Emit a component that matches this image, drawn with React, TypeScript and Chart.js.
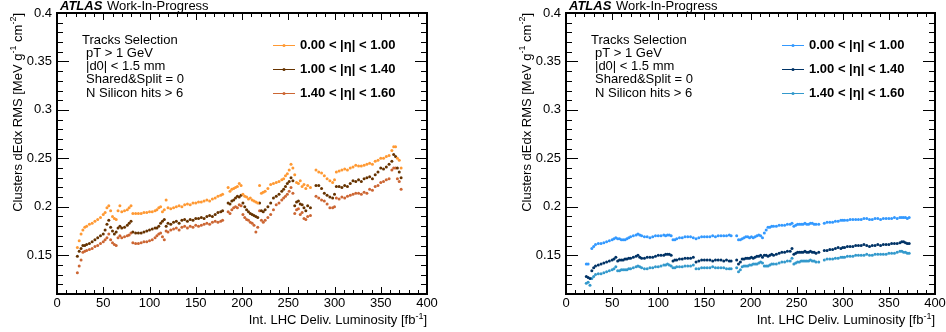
import React, { useEffect, useRef } from "react";
import { Chart, registerables } from "chart.js";

Chart.register(...registerables);

// ---------- data ----------
const lumiA = [22,24,26,28,30,32,35,38,41,44, 47,50,52,54,56,58,60,62,64,66, 68,70,73,76,78,80,82,85,88,91, 94,97,100,103,106,108,110,112,114,116, 118,120,123,126,129,132,135,138,141,144, 147,150,153,156,159,162,165,168,171,174, 177,179];
const lumiB = [185,187,189,191,193,195,197,199,201,203, 205,207,209,211,213,215,217,219,221,223, 225,228,231,234,237,240,243,245,247,249, 251,253,255,257,259,261,263,265,267,269, 271,274];
const lumiC = [280,283,286,289,292,295,298,300,302,305, 308,311,314,317,320,323,326,329,332,335, 338,341,344,347,350,353,356,359,362,364, 366,368,370,372];

// left panel
const ltOrangeA = [0.158,0.165,0.172,0.176,0.179,0.180,0.182,0.183,0.185,0.187,
 0.189,0.192,0.194,0.199,0.201,0.196,0.190,0.188,0.187,0.196,
 0.201,0.195,0.196,0.197,0.199,0.201,0.193,0.193,0.193,0.193,
 0.194,0.194,0.195,0.195,0.196,0.197,0.199,0.200,0.195,0.197,
 0.207,0.199,0.198,0.199,0.200,0.201,0.200,0.202,0.203,0.202,
 0.204,0.204,0.205,0.205,0.206,0.207,0.206,0.208,0.209,0.211,
 0.212,0.213];
const ltBrownA = [0.149,0.154,0.157,0.160,0.160,0.161,0.162,0.164,0.166,0.168,
 0.170,0.172,0.176,0.182,0.186,0.179,0.175,0.172,0.174,0.178,
 0.180,0.178,0.179,0.181,0.183,0.185,0.174,0.173,0.173,0.173,
 0.174,0.175,0.176,0.177,0.178,0.178,0.180,0.183,0.185,0.187,
 0.180,0.183,0.182,0.184,0.185,0.183,0.186,0.187,0.185,0.187,
 0.186,0.188,0.188,0.189,0.188,0.190,0.191,0.190,0.192,0.194,
 0.195,0.196];
const ltRustA = [0.132,0.139,0.145,0.153,0.154,0.155,0.156,0.157,0.159,0.160,
 0.162,0.164,0.166,0.168,0.172,0.166,0.163,0.161,0.160,0.168,
 0.170,0.168,0.169,0.170,0.171,0.173,0.163,0.162,0.162,0.163,
 0.164,0.164,0.165,0.166,0.168,0.170,0.172,0.173,0.169,0.166,
 0.175,0.174,0.176,0.177,0.178,0.176,0.179,0.180,0.178,0.180,
 0.179,0.181,0.180,0.181,0.182,0.183,0.182,0.184,0.185,0.184,
 0.185,0.186];
const ltOrangeB = [0.220,0.216,0.218,0.219,0.220,0.221,0.224,0.222,0.213,0.211,
 0.210,0.208,0.209,0.207,0.206,0.205,0.204,0.222,0.214,0.215,
 0.216,0.219,0.223,0.224,0.225,0.226,0.228,0.229,0.232,0.234,
 0.238,0.244,0.240,0.233,0.225,0.224,0.227,0.221,0.223,0.219,
 0.222,0.220];
const ltBrownB = [0.204,0.203,0.206,0.207,0.209,0.211,0.210,0.212,0.204,0.200,
 0.197,0.195,0.193,0.192,0.191,0.190,0.189,0.204,0.196,0.195,
 0.197,0.200,0.204,0.209,0.211,0.213,0.216,0.218,0.221,0.224,
 0.226,0.230,0.227,0.201,0.205,0.206,0.203,0.202,0.199,0.196,
 0.201,0.199];
const ltRustB = [0.195,0.193,0.197,0.199,0.200,0.199,0.202,0.201,0.192,0.189,
 0.187,0.186,0.184,0.183,0.181,0.174,0.179,0.196,0.186,0.184,
 0.186,0.189,0.192,0.197,0.202,0.204,0.207,0.209,0.211,0.213,
 0.216,0.220,0.214,0.193,0.197,0.198,0.192,0.194,0.188,0.187,
 0.190,0.191];
const ltOrangeC = [0.238,0.236,0.235,0.232,0.229,0.227,0.225,0.228,0.236,0.237,
 0.238,0.239,0.238,0.240,0.241,0.243,0.242,0.242,0.243,0.244,
 0.245,0.244,0.247,0.248,0.250,0.250,0.252,0.253,0.258,0.262,
 0.262,0.250,0.248,0.240];
const ltBrownC = [0.222,0.222,0.219,0.214,0.212,0.210,0.209,0.213,0.221,0.221,
 0.220,0.222,0.221,0.224,0.227,0.226,0.228,0.226,0.229,0.230,
 0.231,0.229,0.233,0.236,0.240,0.239,0.241,0.244,0.247,0.254,
 0.252,0.240,0.236,0.230];
const ltRustC = [0.211,0.209,0.207,0.206,0.203,0.199,0.199,0.200,0.209,0.208,
 0.210,0.209,0.211,0.212,0.213,0.214,0.214,0.213,0.215,0.214,
 0.218,0.217,0.221,0.222,0.225,0.226,0.228,0.229,0.238,0.240,
 0.240,0.229,0.226,0.218];

// right panel
const rtSkyA = [0.141,0.141,null,0.157,0.159,0.161,0.162,0.162,0.163,0.164,
 0.165,0.166,0.167,0.168,0.167,0.167,0.166,0.166,0.166,0.167,
 0.168,0.169,0.170,0.171,0.172,0.171,0.170,0.169,0.169,0.168,
 0.169,0.170,0.170,0.170,0.171,0.170,0.171,0.171,0.170,0.166,
 0.166,0.167,0.168,0.168,0.169,0.169,0.169,0.168,0.167,0.168,
 0.169,0.169,0.169,0.169,0.170,0.169,0.170,0.170,0.170,0.170,
 0.171,0.170];
const rtNavyA = [0.128,0.127,0.126,0.134,0.137,0.139,0.140,0.141,0.142,0.143,
 0.144,0.145,0.146,0.148,0.144,0.145,0.145,0.145,0.146,0.146,
 0.147,0.147,0.148,0.149,0.150,0.148,0.147,0.147,0.148,0.148,
 0.148,0.149,0.150,0.150,0.150,0.151,0.151,0.151,0.150,0.144,
 0.145,0.145,0.146,0.146,0.147,0.147,0.147,0.148,0.143,0.144,
 0.145,0.145,0.145,0.145,0.144,0.145,0.145,0.145,0.144,0.145,
 0.144,0.144];
const rtSteelA = [0.121,0.122,0.119,0.126,0.128,0.130,0.131,0.131,0.132,0.133,
 0.134,0.135,0.136,0.138,0.134,0.134,0.135,0.135,0.135,0.135,
 0.136,0.136,0.137,0.138,0.139,0.138,0.137,0.136,0.136,0.137,
 0.137,0.138,0.138,0.139,0.140,0.140,0.141,0.140,0.139,0.137,
 0.137,0.138,0.138,0.138,0.139,0.139,0.139,0.140,0.136,0.136,
 0.137,0.137,0.137,0.137,0.138,0.137,0.137,0.137,0.137,0.136,
 0.136,0.136];
const rtSkyB = [0.170,0.166,0.166,0.167,0.168,0.169,0.169,0.168,0.169,0.168,
 0.169,0.170,0.171,0.170,0.168,0.173,0.176,0.179,0.179,0.180,
 0.180,0.180,0.181,0.181,0.181,0.182,0.182,0.183,0.180,0.181,
 0.182,0.182,0.182,0.182,0.183,0.182,0.182,0.183,0.183,0.182,
 0.182,0.182];
const rtNavyB = [0.145,0.141,0.143,0.146,0.146,0.147,0.147,0.147,0.148,0.147,
 0.148,0.149,0.149,0.150,0.148,0.150,0.150,0.149,0.150,0.151,
 0.150,0.151,0.152,0.153,0.153,0.154,0.154,0.157,0.151,0.152,
 0.153,0.153,0.153,0.153,0.154,0.153,0.153,0.154,0.153,0.153,
 0.152,0.153];
const rtSteelB = [0.137,0.133,0.135,0.138,0.139,0.139,0.139,0.140,0.140,0.141,
 0.141,0.141,0.142,0.143,0.142,0.139,0.139,0.139,0.140,0.141,
 0.141,0.141,0.142,0.143,0.143,0.144,0.144,0.147,0.141,0.142,
 0.143,0.143,0.144,0.144,0.144,0.144,0.144,0.145,0.144,0.144,
 0.143,0.143];
const rtSkyC = [0.183,0.184,0.184,0.184,0.185,0.185,0.186,0.186,0.186,0.186,
 0.187,0.187,0.187,0.187,0.187,0.188,0.188,0.187,0.187,0.188,
 0.188,0.187,0.188,0.188,0.188,0.188,0.189,0.188,0.189,0.189,
 0.189,0.189,0.188,0.189];
const rtNavyC = [0.155,0.155,0.156,0.156,0.157,0.158,0.157,0.158,0.158,0.159,
 0.159,0.159,0.160,0.160,0.160,0.161,0.160,0.159,0.160,0.160,
 0.161,0.160,0.161,0.161,0.161,0.162,0.162,0.162,0.163,0.164,
 0.164,0.163,0.162,0.162];
const rtSteelC = [0.145,0.146,0.146,0.146,0.147,0.147,0.148,0.148,0.148,0.149,
 0.149,0.149,0.150,0.150,0.150,0.150,0.151,0.150,0.150,0.151,
 0.151,0.151,0.151,0.151,0.152,0.152,0.152,0.153,0.154,0.154,
 0.153,0.153,0.152,0.152];

const xTicks = [0, 50, 100, 150, 200, 250, 300, 350, 400];
const yTicks = [0.15, 0.2, 0.25, 0.3, 0.35, 0.4];
const yTickLabels = ["0.15", "0.2", "0.25", "0.3", "0.35", "0.4"];
const etaLabels = ["0.00 < |\u03b7| < 1.00", "1.00 < |\u03b7| < 1.40", "1.40 < |\u03b7| < 1.60"];
const selectionLines = ["Tracks Selection", "pT > 1 GeV", "|d0| < 1.5 mm", "Shared&Split = 0", "N Silicon hits > 6"];
const leftColors = ["#ff9933", "#663300", "#cc6633"];
const rightColors = ["#3399ff", "#003366", "#3399cc"];

const X_MIN = 0, X_MAX = 400, Y_MIN = 0.11, Y_MAX = 0.4;
const FAMILY = '"Liberation Sans", Arial, Helvetica, sans-serif';

const lumi = [...lumiA, ...lumiB, ...lumiC];
const join = (a: (number | null)[], b: (number | null)[], c: (number | null)[]) => [...a, ...b, ...c];
const toPoints = (vals: (number | null)[]) =>
  lumi.map((x, i) => ({ x, y: vals[i] ?? null })).filter((p) => p.y !== null);

type Part = [string, boolean];

function drawRich(ctx: CanvasRenderingContext2D, parts: Part[], x: number, y: number, align: "left" | "right", size: number) {
  const fN = `${size}px ${FAMILY}`;
  const fS = `${Math.round(size * 0.7)}px ${FAMILY}`;
  let w = 0;
  for (const [t, s] of parts) {
    ctx.font = s ? fS : fN;
    w += ctx.measureText(t).width;
  }
  let cx = align === "right" ? x - w : x;
  ctx.textAlign = "left";
  ctx.textBaseline = "alphabetic";
  for (const [t, s] of parts) {
    ctx.font = s ? fS : fN;
    ctx.fillText(t, cx, s ? y - size * 0.42 : y);
    cx += ctx.measureText(t).width;
  }
}

function makeDecor(colors: string[]) {
  return {
    id: "rootDecor",
    afterDatasetsDraw(chart: any) {
      const { ctx, chartArea: a, scales } = chart;
      const xs = scales.x, ys = scales.y;
      const L = Math.round(a.left), R = Math.round(a.right);
      const T = Math.round(a.top), B = Math.round(a.bottom);
      ctx.save();
      ctx.strokeStyle = "#000";
      ctx.lineWidth = 1;
      ctx.beginPath();
      for (let v = X_MIN; v <= X_MAX; v += 10) {
        const px = Math.round(xs.getPixelForValue(v)) + 0.5;
        const len = v % 50 === 0 ? 7 : 4;
        ctx.moveTo(px, B); ctx.lineTo(px, B - len);
        ctx.moveTo(px, T); ctx.lineTo(px, T + len);
      }
      for (let i = 11; i <= 40; i++) {
        const py = Math.round(ys.getPixelForValue(i / 100)) + 0.5;
        const len = i % 5 === 0 ? 12 : 6;
        ctx.moveTo(L, py); ctx.lineTo(L + len, py);
        ctx.moveTo(R, py); ctx.lineTo(R - len, py);
      }
      ctx.stroke();
      ctx.lineWidth = 2;
      ctx.strokeRect(L, T, R - L, B - T);

      ctx.fillStyle = "#000";
      ctx.font = `13px ${FAMILY}`;
      ctx.textAlign = "center";
      ctx.textBaseline = "middle";
      xTicks.forEach((v) => ctx.fillText(String(v), xs.getPixelForValue(v), a.bottom + 9.5));
      ctx.textAlign = "right";
      yTicks.forEach((v, i) => ctx.fillText(yTickLabels[i], a.left - 5, ys.getPixelForValue(v)));

      // x-axis title
      drawRich(ctx, [["Int. LHC Deliv. Luminosity [fb", false], ["-1", true], ["]", false]], a.right, 324, "right", 13);
      // y-axis title
      ctx.save();
      ctx.translate(a.left - 35.5, a.top);
      ctx.rotate(-Math.PI / 2);
      drawRich(ctx, [["Clusters dEdx RMS [MeV g", false], ["-1", true], [" cm", false], ["-2", true], ["]", false]], 0, 0, "right", 13);
      ctx.restore();

      // ATLAS label
      ctx.textAlign = "left";
      ctx.textBaseline = "alphabetic";
      ctx.font = `italic bold 13px ${FAMILY}`;
      ctx.fillText("ATLAS", a.left + 3, 9.5);
      ctx.font = `13px ${FAMILY}`;
      ctx.fillText("Work-In-Progress", a.left + 50, 9.5);

      // selection text
      ctx.textBaseline = "middle";
      selectionLines.forEach((s, i) => {
        ctx.fillText(s, a.left + (i === 0 ? 25 : 29), a.top + 27 + i * 13.3);
      });

      // legend
      etaLabels.forEach((s, i) => {
        const y = Math.round(a.top + 32 + i * 24) + 0.5;
        ctx.strokeStyle = colors[i];
        ctx.lineWidth = 1;
        ctx.beginPath();
        ctx.moveTo(a.left + 216, y);
        ctx.lineTo(a.left + 238, y);
        ctx.stroke();
        ctx.fillStyle = colors[i];
        ctx.beginPath();
        ctx.arc(a.left + 227, y, 1.5, 0, Math.PI * 2);
        ctx.fill();
        ctx.fillStyle = "#000";
        ctx.font = `bold 13px ${FAMILY}`;
        ctx.fillText(s, a.left + 243, y);
      });
      ctx.restore();
    },
  };
}

function Panel({ left, padLeft, padRight, series, colors }: { left: number; padLeft: number; padRight: number; series: (number | null)[][]; colors: string[] }) {
  const ref = useRef<HTMLCanvasElement | null>(null);
  useEffect(() => {
    if (!ref.current) return;
    const chart = new Chart(ref.current, {
      type: "scatter",
      data: {
        datasets: series.map((vals, i) => ({
          label: etaLabels[i],
          data: toPoints(vals) as any,
          backgroundColor: colors[i],
          borderColor: colors[i],
          borderWidth: 0,
          pointRadius: 1.5,
          pointHoverRadius: 1.5,
          showLine: false,
        })),
      },
      options: {
        responsive: false,
        animation: false,
        devicePixelRatio: 1,
        layout: { padding: { left: padLeft, right: padRight, top: 13, bottom: 38 } },
        scales: {
          x: { type: "linear", min: X_MIN, max: X_MAX, display: false },
          y: { type: "linear", min: Y_MIN, max: Y_MAX, display: false },
        },
        plugins: { legend: { display: false }, tooltip: { enabled: false } },
      },
      plugins: [makeDecor(colors)],
    });
    return () => chart.destroy();
  }, []);
  return (
    <canvas
      ref={ref}
      width={473}
      height={332}
      style={{ position: "absolute", left, top: 0, width: 473, height: 332 }}
    />
  );
}

export default function App() {
  const leftSeries = [
    join(ltOrangeA, ltOrangeB, ltOrangeC),
    join(ltBrownA, ltBrownB, ltBrownC),
    join(ltRustA, ltRustB, ltRustC),
  ];
  const rightSeries = [
    join(rtSkyA, rtSkyB, rtSkyC),
    join(rtNavyA, rtNavyB, rtNavyC),
    join(rtSteelA, rtSteelB, rtSteelC),
  ];
  return (
    <div style={{ position: "fixed", left: 0, top: 0, width: 946, height: 332, background: "#fff" }}>
      <Panel left={0} padLeft={57} padRight={46} series={leftSeries} colors={leftColors} />
      <Panel left={473} padLeft={93} padRight={11} series={rightSeries} colors={rightColors} />
    </div>
  );
}
